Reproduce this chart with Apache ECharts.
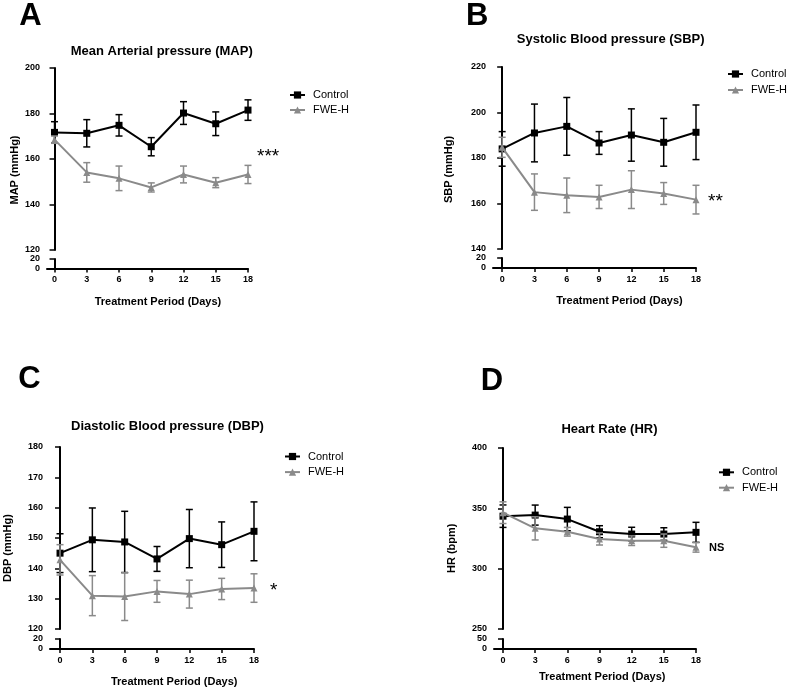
<!DOCTYPE html>
<html>
<head>
<meta charset="utf-8">
<script src="https://cdn.jsdelivr.net/npm/echarts@6/dist/echarts.min.js"></script>
<style>html,body{margin:0;padding:0;background:#fff}#c{width:788px;height:690px}</style>
</head>
<body>
<div id="c"></div>
<script>
// ---- data ----
const days = [0, 3, 6, 9, 12, 15, 18];

const mapControl    = [171.7, 171.3, 174.8, 165.4, 180.2, 175.5, 181.5];
const mapControlErr = [4.7, 6.0, 4.7, 4.0, 5.0, 5.2, 4.5];
const mapFwe        = [168.5, 154.1, 151.5, 147.5, 153.2, 149.6, 153.2];
const mapFweErr     = [1.6, 4.3, 5.4, 2.0, 3.7, 2.2, 4.0];

const sbpControl    = [184.0, 191.0, 193.9, 186.6, 190.1, 186.9, 191.3];
const sbpControlErr = [7.6, 12.7, 12.7, 5.0, 11.5, 10.5, 12.0];
const sbpFwe        = [184.7, 165.0, 163.6, 162.9, 166.1, 164.4, 161.7];
const sbpFweErr     = [4.4, 8.0, 7.6, 5.1, 8.3, 4.8, 6.3];

const dbpControl    = [145.0, 149.4, 148.7, 143.1, 149.8, 147.8, 152.2];
const dbpControlErr = [6.4, 10.5, 10.1, 4.1, 9.6, 7.5, 9.7];
const dbpFwe        = [142.8, 131.0, 130.7, 132.4, 131.5, 133.2, 133.5];
const dbpFweErr     = [5.0, 6.6, 7.9, 3.6, 4.6, 3.5, 4.7];

const hrControl     = [343.5, 344.4, 341.1, 330.6, 328.7, 328.7, 330.1];
const hrControlErr  = [9.3, 8.3, 9.7, 5.0, 5.6, 5.2, 8.3];
const hrFwe         = [346.4, 333.4, 330.6, 324.6, 323.2, 323.2, 317.7];
const hrFweErr      = [9.0, 9.6, 3.6, 5.0, 4.0, 5.5, 4.0];

const panelLetters = ['A', 'B', 'C', 'D'];
const panelTitles = ['Mean Arterial pressure (MAP)', 'Systolic Blood pressure (SBP)', 'Diastolic Blood pressure (DBP)', 'Heart Rate (HR)'];
const yNames = ['MAP (mmHg)', 'SBP (mmHg)', 'DBP (mmHg)', 'HR (bpm)'];
const xName = 'Treatment Period (Days)';
const sigMarks = ['***', '**', '*', 'NS'];
const seriesNames = ['Control', 'FWE-H'];

// ---- build ----
const FONT = '"Liberation Sans", Arial, sans-serif';
const BLACK = '#000000';
const GRAY = '#8a8a8a';

const option = {
  animation: false,
  backgroundColor: '#ffffff',
  grid: [], xAxis: [], yAxis: [], series: [], legend: [], graphic: []
};

function errRenderer(color) {
  return function (params, api) {
    const x = api.value(0), lo = api.value(1), hi = api.value(2);
    const p1 = api.coord([x, hi]), p2 = api.coord([x, lo]);
    const w = 3.5;
    const st = { stroke: color, lineWidth: 1.5 };
    return {
      type: 'group',
      children: [
        { type: 'line', shape: { x1: p1[0], y1: p1[1], x2: p2[0], y2: p2[1] }, style: st },
        { type: 'line', shape: { x1: p1[0] - w, y1: p1[1], x2: p1[0] + w, y2: p1[1] }, style: st },
        { type: 'line', shape: { x1: p2[0] - w, y1: p2[1], x2: p2[0] + w, y2: p2[1] }, style: st }
      ]
    };
  };
}

function text(x, y, str, font, opts) {
  opts = opts || {};
  option.graphic.push({
    type: 'text', x: x, y: y, rotation: opts.rot || 0, silent: true,
    style: { text: str, font: font, fill: BLACK, align: opts.align || 'center', verticalAlign: 'middle' }
  });
}

function panel(idx, g, ctrl, ctrlErr, fwe, fweErr) {
  const gi = option.grid.length;
  // main grid (upper segment)
  option.grid.push({ left: g.left, top: g.top, width: g.width, height: g.height, outerBoundsMode: 'none' });
  // lower grid (broken-axis bottom segment)
  option.grid.push({ left: g.left, top: g.lowTop, width: g.width, height: g.lowH, outerBoundsMode: 'none' });

  const yCommon = {
    axisLine: { show: true, lineStyle: { color: BLACK, width: 2 } },
    axisTick: { show: true, length: 5, lineStyle: { color: BLACK, width: 1.5 } },
    axisLabel: { color: BLACK, fontSize: 9, fontWeight: 'bold', fontFamily: FONT, margin: 7 },
    splitLine: { show: false }
  };
  option.yAxis.push(Object.assign({ type: 'value', gridIndex: gi, min: g.yMin, max: g.yMax, interval: g.yInt }, yCommon));
  option.yAxis.push(Object.assign({ type: 'value', gridIndex: gi + 1, min: 0, max: g.lowMax, interval: g.lowMax }, yCommon));

  option.xAxis.push({ type: 'value', gridIndex: gi, min: g.xMin, max: 18, show: false });
  option.xAxis.push({
    type: 'value', gridIndex: gi + 1, min: g.xMin, max: 18,
    axisLine: { show: true, onZero: false, lineStyle: { color: BLACK, width: 2 } },
    axisTick: { show: true, length: 4, customValues: days, lineStyle: { color: BLACK, width: 1.5 } },
    axisLabel: { color: BLACK, fontSize: 9, fontWeight: 'bold', fontFamily: FONT, margin: 7, customValues: days },
    splitLine: { show: false }
  });

  const ax = { xAxisIndex: gi, yAxisIndex: gi };
  const groups = [
    { name: seriesNames[0], v: ctrl, e: ctrlErr, color: BLACK, sym: 'rect', size: 7, z: 3 },
    { name: seriesNames[1], v: fwe, e: fweErr, color: GRAY, sym: 'triangle', size: 7, z: 5 }
  ];
  groups.forEach(s => {
    option.series.push(Object.assign({
      type: 'custom', name: s.name + ' error', z: s.z,
      renderItem: errRenderer(s.color),
      encode: { x: 0, y: [1, 2] },
      data: days.map((d, k) => [d, s.v[k] - s.e[k], s.v[k] + s.e[k]])
    }, ax));
    option.series.push(Object.assign({
      type: 'line', name: s.name, z: s.z + 1,
      symbol: s.sym, symbolSize: s.size, showSymbol: true,
      lineStyle: { color: s.color, width: 2 },
      itemStyle: { color: s.color },
      data: days.map((d, k) => [d, s.v[k]])
    }, ax));
  });

  option.legend.push({
    data: seriesNames, orient: 'vertical', left: g.legLeft, top: g.legTop, padding: 0,
    itemWidth: 15, itemHeight: 9, itemGap: g.legGap, selectedMode: false,
    textStyle: { fontSize: 11, color: BLACK, fontFamily: FONT, lineHeight: 11, padding: [0, 0, 0, 3] }
  });

  text(g.letter[0], g.letter[1], panelLetters[idx], 'bold 31px ' + FONT);
  text(g.title[0], g.title[1], panelTitles[idx], 'bold 13px ' + FONT);
  text(g.xn[0], g.xn[1], xName, 'bold 11px ' + FONT);
  text(g.yn[0], g.yn[1], yNames[idx], 'bold 11px ' + FONT, { rot: Math.PI / 2 });
  text(g.sig[0], g.sig[1], sigMarks[idx], g.sigFont, { align: 'left' });
}

panel(0, {
  left: 47, top: 68, width: 201, height: 182, lowTop: 259, lowH: 9.5,
  yMin: 120, yMax: 200, yInt: 20, lowMax: 20, xMin: -0.7,
  legLeft: 289, legTop: 89.5, legGap: 4,
  letter: [30.5, 16], title: [161.7, 51.7], xn: [158, 302], yn: [15, 170],
  sig: [257, 157], sigFont: '19px ' + FONT
}, mapControl, mapControlErr, mapFwe, mapFweErr);

panel(1, {
  left: 493, top: 67, width: 203, height: 182, lowTop: 258, lowH: 10,
  yMin: 140, yMax: 220, yInt: 20, lowMax: 20, xMin: -0.85,
  legLeft: 727, legTop: 68.5, legGap: 5,
  letter: [477.3, 16], title: [610.7, 39.3], xn: [619.5, 301], yn: [449, 169.5],
  sig: [708, 202], sigFont: '19px ' + FONT
}, sbpControl, sbpControlErr, sbpFwe, sbpFweErr);

panel(2, {
  left: 50, top: 447, width: 204, height: 182, lowTop: 639, lowH: 10,
  yMin: 120, yMax: 180, yInt: 10, lowMax: 20, xMin: -0.93,
  legLeft: 284, legTop: 451, legGap: 4.6,
  letter: [29.5, 379.5], title: [167.5, 426.7], xn: [174.2, 681.7], yn: [7.5, 548],
  sig: [270, 591], sigFont: '19px ' + FONT
}, dbpControl, dbpControlErr, dbpFwe, dbpFweErr);

panel(3, {
  left: 494, top: 448, width: 202, height: 181, lowTop: 639, lowH: 10,
  yMin: 250, yMax: 400, yInt: 50, lowMax: 50, xMin: -0.84,
  legLeft: 718, legTop: 466.8, legGap: 4.4,
  letter: [492, 381], title: [609.5, 429], xn: [602.2, 676.7], yn: [452.3, 548.3],
  sig: [709, 548.3], sigFont: 'bold 11px ' + FONT
}, hrControl, hrControlErr, hrFwe, hrFweErr);

const chart = echarts.init(document.getElementById('c'), null, { renderer: 'canvas' });
chart.setOption(option);
</script>
</body>
</html>
